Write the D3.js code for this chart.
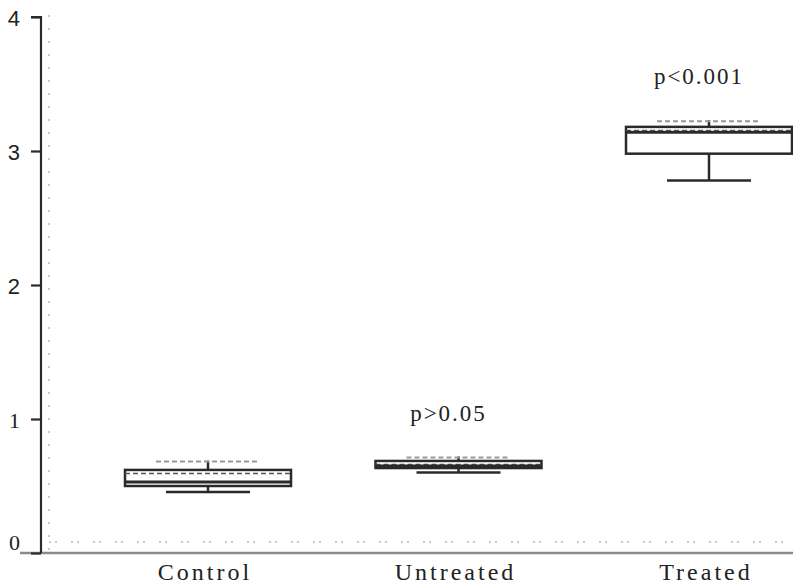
<!DOCTYPE html>
<html>
<head>
<meta charset="utf-8">
<script src="https://cdn.jsdelivr.net/npm/d3@7"></script>
<style>
  body { margin: 0; background: #fff; }
  svg { display: block; }
</style>
</head>
<body>
<script>
var w = 793;
var h = 585;

// Box plot values
var groups = ["Control", "Untreated", "Treated"];
var whiskerLow = [0.455, 0.60, 2.78];
var q1 = [0.50, 0.634, 2.98];
var medians = [0.53, 0.65, 3.14];
var q3 = [0.62, 0.687, 3.18];
var whiskerHigh = [0.69, 0.72, 3.23];
var pLabels = ["", "p>0.05", "p<0.001"];
var yTicks = [0, 1, 2, 3, 4];

var dataset = groups.map(function(g, i) {
    return {
        name: g, lo: whiskerLow[i], q1: q1[i], med: medians[i],
        q3: q3[i], hi: whiskerHigh[i], p: pLabels[i]
    };
});

var svg = d3.select("body")
    .append("svg")
    .attr("width", w)
    .attr("height", h);

var y = d3.scaleLinear().domain([0, 4]).range([553, 17]);
var x = d3.scalePoint().domain(groups).range([208, 709]);

var boxW = 166;
var capW = 84;
var dark = "#2a2a2a";

// Faint dotted grid lines
svg.append("line")
    .attr("x1", 49).attr("x2", 49)
    .attr("y1", 15).attr("y2", y(0))
    .attr("stroke", "#bbb")
    .attr("stroke-width", 1.5)
    .attr("stroke-dasharray", "2,11");

svg.append("line")
    .attr("x1", 49).attr("x2", w)
    .attr("y1", y(0) - 11).attr("y2", y(0) - 11)
    .attr("stroke", "#bbb")
    .attr("stroke-width", 1.5)
    .attr("stroke-dasharray", "2,4,2,14");

// X axis baseline
svg.append("line")
    .attr("x1", 20).attr("x2", w)
    .attr("y1", y(0)).attr("y2", y(0))
    .attr("stroke", "#8a8a8a")
    .attr("stroke-width", 2.5);

// Y axis
var yAxis = d3.axisLeft(y)
    .tickValues(yTicks)
    .tickSize(10)
    .tickPadding(11)
    .tickFormat(d3.format("d"));

var gy = svg.append("g")
    .attr("transform", "translate(41,0)")
    .call(yAxis);

gy.select(".domain")
    .attr("d", "M-10," + y(4) + "H0V" + y(0))
    .attr("stroke", dark)
    .attr("stroke-width", 2.2);

gy.selectAll(".tick line")
    .attr("stroke", dark)
    .attr("stroke-width", 2.2);

gy.selectAll(".tick text")
    .attr("fill", "#222")
    .style("font-size", "22px")
    .style("font-family", function(d) {
        return d < 2 ? "'Liberation Serif', serif" : "'Liberation Sans', Arial, sans-serif";
    })
    .attr("dy", function(d) { return d === 0 ? "-0.15em" : "0.4em"; });

// Boxes
var boxes = svg.selectAll("g.box")
    .data(dataset)
    .enter()
    .append("g")
    .attr("class", "box")
    .attr("transform", function(d) { return "translate(" + x(d.name) + ",0)"; });

// whisker stems
boxes.append("line")
    .attr("y1", function(d) { return y(d.hi); })
    .attr("y2", function(d) { return y(d.q3); })
    .attr("stroke", dark).attr("stroke-width", 2.5);

boxes.append("line")
    .attr("y1", function(d) { return y(d.q1); })
    .attr("y2", function(d) { return y(d.lo); })
    .attr("stroke", dark).attr("stroke-width", 2.5);

// upper caps (faint dashed) and lower caps (solid)
boxes.append("line")
    .attr("x1", -capW / 2 - 10).attr("x2", capW / 2 + 10)
    .attr("y1", function(d) { return y(d.hi) + 1; })
    .attr("y2", function(d) { return y(d.hi) + 1; })
    .attr("stroke", "#999").attr("stroke-width", 2)
    .attr("stroke-dasharray", "5,3");

boxes.append("line")
    .attr("x1", -capW / 2).attr("x2", capW / 2)
    .attr("y1", function(d) { return y(d.lo); })
    .attr("y2", function(d) { return y(d.lo); })
    .attr("stroke", dark).attr("stroke-width", 2.5);

// the box
boxes.append("rect")
    .attr("x", -boxW / 2)
    .attr("width", boxW)
    .attr("y", function(d) { return y(d.q3); })
    .attr("height", function(d) { return y(d.q1) - y(d.q3); })
    .attr("fill", "#fff")
    .attr("stroke", dark)
    .attr("stroke-width", 2.5);

// inner dashed line under the box top
boxes.append("line")
    .attr("x1", -boxW / 2).attr("x2", boxW / 2)
    .attr("y1", function(d) { return y(d.q3) + 3.5; })
    .attr("y2", function(d) { return y(d.q3) + 3.5; })
    .attr("stroke", "#555").attr("stroke-width", 1.5)
    .attr("stroke-dasharray", "5,3");

// median
boxes.append("line")
    .attr("x1", -boxW / 2).attr("x2", boxW / 2)
    .attr("y1", function(d) { return y(d.med); })
    .attr("y2", function(d) { return y(d.med); })
    .attr("stroke", dark).attr("stroke-width", 3);

// p-value annotations
boxes.filter(function(d) { return d.p !== ""; })
    .append("text")
    .attr("x", -10)
    .attr("y", function(d) { return y(d.hi) - 36; })
    .attr("text-anchor", "middle")
    .style("font-family", "'Liberation Serif', 'Times New Roman', serif")
    .style("font-size", "23px")
    .style("letter-spacing", "2px")
    .attr("fill", "#222")
    .text(function(d) { return d.p; });

// Category labels
svg.selectAll("text.cat")
    .data(groups)
    .enter()
    .append("text")
    .attr("class", "cat")
    .attr("x", function(d) { return x(d) - 3; })
    .attr("y", 580)
    .attr("text-anchor", "middle")
    .style("font-family", "'Liberation Serif', 'Times New Roman', serif")
    .style("font-size", "24px")
    .style("letter-spacing", "3px")
    .attr("fill", "#222")
    .text(function(d) { return d; });
</script>
</body>
</html>
